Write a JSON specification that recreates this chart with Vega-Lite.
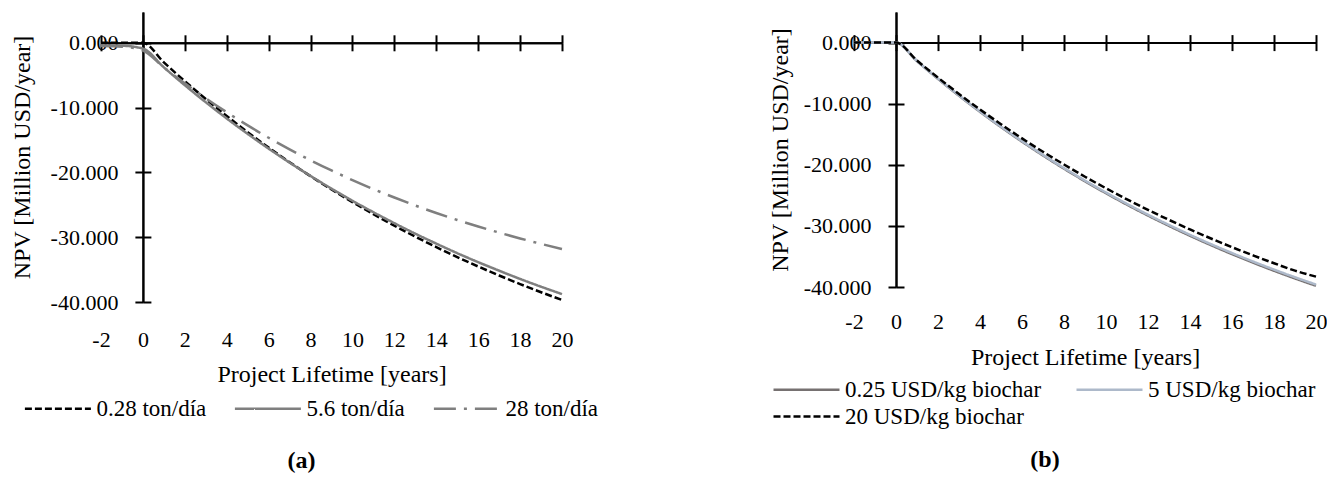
{
  "$schema": "https://vega.github.io/schema/vega-lite/v6.json",
  "padding": {"left": 10, "top": 12, "right": 0, "bottom": 0},
  "bounds": "flush",
  "spacing": 292,
  "background": "white",
  "resolve": {"scale": {"color": "independent", "strokeDash": "independent"}},
  "datasets": {
    "a": [
      {"series": "0.28 ton/día", "year": -2, "npv": 0},
      {"series": "0.28 ton/día", "year": -1, "npv": 0},
      {"series": "0.28 ton/día", "year": 0, "npv": 0},
      {"series": "0.28 ton/día", "year": 1, "npv": -3.03},
      {"series": "0.28 ton/día", "year": 2, "npv": -5.92},
      {"series": "0.28 ton/día", "year": 3, "npv": -8.67},
      {"series": "0.28 ton/día", "year": 4, "npv": -11.29},
      {"series": "0.28 ton/día", "year": 5, "npv": -13.79},
      {"series": "0.28 ton/día", "year": 6, "npv": -16.17},
      {"series": "0.28 ton/día", "year": 7, "npv": -18.43},
      {"series": "0.28 ton/día", "year": 8, "npv": -20.58},
      {"series": "0.28 ton/día", "year": 9, "npv": -22.64},
      {"series": "0.28 ton/día", "year": 10, "npv": -24.59},
      {"series": "0.28 ton/día", "year": 11, "npv": -26.45},
      {"series": "0.28 ton/día", "year": 12, "npv": -28.23},
      {"series": "0.28 ton/día", "year": 13, "npv": -29.92},
      {"series": "0.28 ton/día", "year": 14, "npv": -31.53},
      {"series": "0.28 ton/día", "year": 15, "npv": -33.06},
      {"series": "0.28 ton/día", "year": 16, "npv": -34.52},
      {"series": "0.28 ton/día", "year": 17, "npv": -35.91},
      {"series": "0.28 ton/día", "year": 18, "npv": -37.23},
      {"series": "0.28 ton/día", "year": 19, "npv": -38.49},
      {"series": "0.28 ton/día", "year": 20, "npv": -39.69},
      {"series": "5.6 ton/día", "year": -2, "npv": -0.4},
      {"series": "5.6 ton/día", "year": -1, "npv": -0.45},
      {"series": "5.6 ton/día", "year": 0, "npv": -0.9},
      {"series": "5.6 ton/día", "year": 1, "npv": -3.79},
      {"series": "5.6 ton/día", "year": 2, "npv": -6.55},
      {"series": "5.6 ton/día", "year": 3, "npv": -9.18},
      {"series": "5.6 ton/día", "year": 4, "npv": -11.68},
      {"series": "5.6 ton/día", "year": 5, "npv": -14.06},
      {"series": "5.6 ton/día", "year": 6, "npv": -16.33},
      {"series": "5.6 ton/día", "year": 7, "npv": -18.49},
      {"series": "5.6 ton/día", "year": 8, "npv": -20.55},
      {"series": "5.6 ton/día", "year": 9, "npv": -22.51},
      {"series": "5.6 ton/día", "year": 10, "npv": -24.38},
      {"series": "5.6 ton/día", "year": 11, "npv": -26.15},
      {"series": "5.6 ton/día", "year": 12, "npv": -27.84},
      {"series": "5.6 ton/día", "year": 13, "npv": -29.46},
      {"series": "5.6 ton/día", "year": 14, "npv": -30.99},
      {"series": "5.6 ton/día", "year": 15, "npv": -32.46},
      {"series": "5.6 ton/día", "year": 16, "npv": -33.85},
      {"series": "5.6 ton/día", "year": 17, "npv": -35.17},
      {"series": "5.6 ton/día", "year": 18, "npv": -36.44},
      {"series": "5.6 ton/día", "year": 19, "npv": -37.64},
      {"series": "5.6 ton/día", "year": 20, "npv": -38.78},
      {"series": "28 ton/día", "year": -2, "npv": -0.5},
      {"series": "28 ton/día", "year": -1, "npv": -0.6},
      {"series": "28 ton/día", "year": 0, "npv": -1.2},
      {"series": "28 ton/día", "year": 1, "npv": -3.81},
      {"series": "28 ton/día", "year": 2, "npv": -6.26},
      {"series": "28 ton/día", "year": 3, "npv": -8.56},
      {"series": "28 ton/día", "year": 4, "npv": -10.72},
      {"series": "28 ton/día", "year": 5, "npv": -12.75},
      {"series": "28 ton/día", "year": 6, "npv": -14.66},
      {"series": "28 ton/día", "year": 7, "npv": -16.45},
      {"series": "28 ton/día", "year": 8, "npv": -18.13},
      {"series": "28 ton/día", "year": 9, "npv": -19.7},
      {"series": "28 ton/día", "year": 10, "npv": -21.19},
      {"series": "28 ton/día", "year": 11, "npv": -22.58},
      {"series": "28 ton/día", "year": 12, "npv": -23.88},
      {"series": "28 ton/día", "year": 13, "npv": -25.11},
      {"series": "28 ton/día", "year": 14, "npv": -26.26},
      {"series": "28 ton/día", "year": 15, "npv": -27.34},
      {"series": "28 ton/día", "year": 16, "npv": -28.35},
      {"series": "28 ton/día", "year": 17, "npv": -29.29},
      {"series": "28 ton/día", "year": 18, "npv": -30.19},
      {"series": "28 ton/día", "year": 19, "npv": -31.03},
      {"series": "28 ton/día", "year": 20, "npv": -31.83}
    ],
    "b": [
      {"series": "0.25 USD/kg biochar", "year": -2, "npv": 0},
      {"series": "0.25 USD/kg biochar", "year": -1, "npv": 0},
      {"series": "0.25 USD/kg biochar", "year": 0, "npv": 0},
      {"series": "0.25 USD/kg biochar", "year": 1, "npv": -3.04},
      {"series": "0.25 USD/kg biochar", "year": 2, "npv": -5.94},
      {"series": "0.25 USD/kg biochar", "year": 3, "npv": -8.7},
      {"series": "0.25 USD/kg biochar", "year": 4, "npv": -11.33},
      {"series": "0.25 USD/kg biochar", "year": 5, "npv": -13.83},
      {"series": "0.25 USD/kg biochar", "year": 6, "npv": -16.21},
      {"series": "0.25 USD/kg biochar", "year": 7, "npv": -18.48},
      {"series": "0.25 USD/kg biochar", "year": 8, "npv": -20.64},
      {"series": "0.25 USD/kg biochar", "year": 9, "npv": -22.7},
      {"series": "0.25 USD/kg biochar", "year": 10, "npv": -24.66},
      {"series": "0.25 USD/kg biochar", "year": 11, "npv": -26.53},
      {"series": "0.25 USD/kg biochar", "year": 12, "npv": -28.31},
      {"series": "0.25 USD/kg biochar", "year": 13, "npv": -30.0},
      {"series": "0.25 USD/kg biochar", "year": 14, "npv": -31.62},
      {"series": "0.25 USD/kg biochar", "year": 15, "npv": -33.15},
      {"series": "0.25 USD/kg biochar", "year": 16, "npv": -34.62},
      {"series": "0.25 USD/kg biochar", "year": 17, "npv": -36.01},
      {"series": "0.25 USD/kg biochar", "year": 18, "npv": -37.34},
      {"series": "0.25 USD/kg biochar", "year": 19, "npv": -38.6},
      {"series": "0.25 USD/kg biochar", "year": 20, "npv": -39.8},
      {"series": "5 USD/kg biochar", "year": -2, "npv": 0},
      {"series": "5 USD/kg biochar", "year": -1, "npv": 0},
      {"series": "5 USD/kg biochar", "year": 0, "npv": 0},
      {"series": "5 USD/kg biochar", "year": 1, "npv": -3.03},
      {"series": "5 USD/kg biochar", "year": 2, "npv": -5.91},
      {"series": "5 USD/kg biochar", "year": 3, "npv": -8.65},
      {"series": "5 USD/kg biochar", "year": 4, "npv": -11.27},
      {"series": "5 USD/kg biochar", "year": 5, "npv": -13.76},
      {"series": "5 USD/kg biochar", "year": 6, "npv": -16.13},
      {"series": "5 USD/kg biochar", "year": 7, "npv": -18.39},
      {"series": "5 USD/kg biochar", "year": 8, "npv": -20.54},
      {"series": "5 USD/kg biochar", "year": 9, "npv": -22.59},
      {"series": "5 USD/kg biochar", "year": 10, "npv": -24.54},
      {"series": "5 USD/kg biochar", "year": 11, "npv": -26.4},
      {"series": "5 USD/kg biochar", "year": 12, "npv": -28.17},
      {"series": "5 USD/kg biochar", "year": 13, "npv": -29.85},
      {"series": "5 USD/kg biochar", "year": 14, "npv": -31.46},
      {"series": "5 USD/kg biochar", "year": 15, "npv": -32.99},
      {"series": "5 USD/kg biochar", "year": 16, "npv": -34.44},
      {"series": "5 USD/kg biochar", "year": 17, "npv": -35.83},
      {"series": "5 USD/kg biochar", "year": 18, "npv": -37.15},
      {"series": "5 USD/kg biochar", "year": 19, "npv": -38.41},
      {"series": "5 USD/kg biochar", "year": 20, "npv": -39.6},
      {"series": "20 USD/kg biochar", "year": -2, "npv": 0},
      {"series": "20 USD/kg biochar", "year": -1, "npv": 0},
      {"series": "20 USD/kg biochar", "year": 0, "npv": 0},
      {"series": "20 USD/kg biochar", "year": 1, "npv": -2.94},
      {"series": "20 USD/kg biochar", "year": 2, "npv": -5.74},
      {"series": "20 USD/kg biochar", "year": 3, "npv": -8.41},
      {"series": "20 USD/kg biochar", "year": 4, "npv": -10.95},
      {"series": "20 USD/kg biochar", "year": 5, "npv": -13.37},
      {"series": "20 USD/kg biochar", "year": 6, "npv": -15.68},
      {"series": "20 USD/kg biochar", "year": 7, "npv": -17.87},
      {"series": "20 USD/kg biochar", "year": 8, "npv": -19.96},
      {"series": "20 USD/kg biochar", "year": 9, "npv": -21.96},
      {"series": "20 USD/kg biochar", "year": 10, "npv": -23.85},
      {"series": "20 USD/kg biochar", "year": 11, "npv": -25.66},
      {"series": "20 USD/kg biochar", "year": 12, "npv": -27.38},
      {"series": "20 USD/kg biochar", "year": 13, "npv": -29.02},
      {"series": "20 USD/kg biochar", "year": 14, "npv": -30.58},
      {"series": "20 USD/kg biochar", "year": 15, "npv": -32.06},
      {"series": "20 USD/kg biochar", "year": 16, "npv": -33.48},
      {"series": "20 USD/kg biochar", "year": 17, "npv": -34.83},
      {"series": "20 USD/kg biochar", "year": 18, "npv": -36.11},
      {"series": "20 USD/kg biochar", "year": 19, "npv": -37.33},
      {"series": "20 USD/kg biochar", "year": 20, "npv": -38.3}
    ]
  },
  "hconcat": [
    {
      "width": 461,
      "height": 290,
      "data": {"name": "a"},
      "title": {"text": "(a)", "orient": "bottom", "offset": 28, "dx": -30},
      "layer": [
        {
          "mark": {"type": "line", "strokeWidth": 2.5, "interpolate": "monotone"},
          "encoding": {
            "x": {"field": "year", "type": "quantitative",
              "scale": {"domain": [-2, 20], "nice": false, "zero": false},
              "axis": {"orient": "bottom", "offset": -259.2, "values": [-2, 0, 2, 4, 6, 8, 10, 12, 14, 16, 18, 20],
                "labelPadding": 289, "labelBaseline": "middle", "labelExpr": "replace(datum.label, '\u2212', '-')",
                "title": "Project Lifetime [years]", "titleY": 332, "titleBaseline": "middle"}},
            "y": {"field": "npv", "type": "quantitative",
              "scale": {"domain": [-40, 4.75], "nice": false, "zero": false},
              "axis": {"orient": "left", "offset": -41.9, "values": [-40, -30, -20, -10, 0],
                "labelPadding": 17, "labelExpr": "replace(format(datum.value, '.3f'), '\u2212', '-')",
                "title": "NPV [Million USD/year]", "titlePadding": 16}},
            "color": {"field": "series", "type": "nominal",
              "scale": {"domain": ["0.28 ton/día", "5.6 ton/día", "28 ton/día"], "range": ["#000000", "#7f7f7f", "#7f7f7f"]},
              "legend": {"orient": "none", "legendX": -55.6, "legendY": 384, "direction": "horizontal", "columnPadding": 23}},
            "strokeDash": {"field": "series", "type": "nominal",
              "scale": {"domain": ["0.28 ton/día", "5.6 ton/día", "28 ton/día"], "range": [[7, 3], [1, 0], [22, 8, 3, 8]]},
              "legend": {"orient": "none", "legendX": -55.6, "legendY": 384, "direction": "horizontal", "columnPadding": 23}}
          }
        },
        {
          "mark": {"type": "line", "opacity": 0},
          "encoding": {
            "x": {"field": "year", "type": "quantitative",
              "scale": {"domain": [-2, 20], "nice": false, "zero": false},
              "axis": {"orient": "top", "offset": -30.8, "values": [-2, 0, 2, 4, 6, 8, 10, 12, 14, 16, 18, 20], "labels": false, "title": null}},
            "y": {"field": "npv", "type": "quantitative",
              "scale": {"domain": [-40, 4.75], "nice": false, "zero": false},
              "axis": {"orient": "right", "offset": -419.1, "values": [-40, -30, -20, -10, 0], "labels": false, "title": null}}
          }
        }
      ],
      "resolve": {"axis": {"x": "independent", "y": "independent"}}
    },
    {
      "width": 462,
      "height": 275,
      "data": {"name": "b"},
      "title": {"text": "(b)", "orient": "bottom", "offset": 19, "dx": -40},
      "layer": [
        {
          "mark": {"type": "line", "strokeWidth": 2.5, "interpolate": "monotone"},
          "encoding": {
            "x": {"field": "year", "type": "quantitative",
              "scale": {"domain": [-2, 20], "nice": false, "zero": false},
              "axis": {"orient": "bottom", "offset": -244.4, "values": [-2, 0, 2, 4, 6, 8, 10, 12, 14, 16, 18, 20],
                "labelPadding": 271, "labelBaseline": "middle", "labelExpr": "replace(datum.label, '\u2212', '-')",
                "title": "Project Lifetime [years]", "titleY": 314.5, "titleBaseline": "middle"}},
            "y": {"field": "npv", "type": "quantitative",
              "scale": {"domain": [-40, 5], "nice": false, "zero": false},
              "axis": {"orient": "left", "offset": -42, "values": [-40, -30, -20, -10, 0],
                "labelPadding": 17, "labelExpr": "replace(format(datum.value, '.3f'), '\u2212', '-')",
                "title": "NPV [Million USD/year]", "titlePadding": 11}},
            "color": {"field": "series", "type": "nominal",
              "scale": {"domain": ["0.25 USD/kg biochar", "5 USD/kg biochar", "20 USD/kg biochar"], "range": ["#767171", "#adb9ca", "#000000"]},
              "legend": {"orient": "none", "legendX": -60, "legendY": 365, "direction": "horizontal", "columns": 2, "columnPadding": 29, "rowPadding": 2}},
            "strokeDash": {"field": "series", "type": "nominal",
              "scale": {"domain": ["0.25 USD/kg biochar", "5 USD/kg biochar", "20 USD/kg biochar"], "range": [[1, 0], [1, 0], [7, 3]]},
              "legend": {"orient": "none", "legendX": -60, "legendY": 365, "direction": "horizontal", "columns": 2, "columnPadding": 29, "rowPadding": 2}}
          }
        },
        {
          "mark": {"type": "line", "opacity": 0},
          "encoding": {
            "x": {"field": "year", "type": "quantitative",
              "scale": {"domain": [-2, 20], "nice": false, "zero": false},
              "axis": {"orient": "top", "offset": -30.6, "values": [-2, 0, 2, 4, 6, 8, 10, 12, 14, 16, 18, 20], "labels": false, "title": null}},
            "y": {"field": "npv", "type": "quantitative",
              "scale": {"domain": [-40, 5], "nice": false, "zero": false},
              "axis": {"orient": "right", "offset": -420, "values": [-40, -30, -20, -10, 0], "labels": false, "title": null}}
          }
        }
      ],
      "resolve": {"axis": {"x": "independent", "y": "independent"}}
    }
  ],
  "config": {
    "view": {"stroke": null},
    "axis": {
      "labelFont": "Liberation Serif", "titleFont": "Liberation Serif",
      "labelFontSize": 22, "titleFontSize": 24, "titleFontWeight": "normal",
      "labelColor": "black", "titleColor": "black",
      "domainColor": "black", "tickColor": "black", "domainWidth": 2, "tickWidth": 2, "tickSize": 8,
      "grid": false, "labelFlush": false, "labelOverlap": false
    },
    "legend": {
      "title": null, "symbolType": "M-3,0H3", "symbolSize": 484, "symbolStrokeWidth": 2.5,
      "labelFont": "Liberation Serif", "labelFontSize": 23, "labelColor": "black", "labelOffset": 26, "labelLimit": 400
    },
    "title": {"font": "Liberation Serif", "fontSize": 24, "fontWeight": "bold", "color": "black", "anchor": "middle"}
  }
}
